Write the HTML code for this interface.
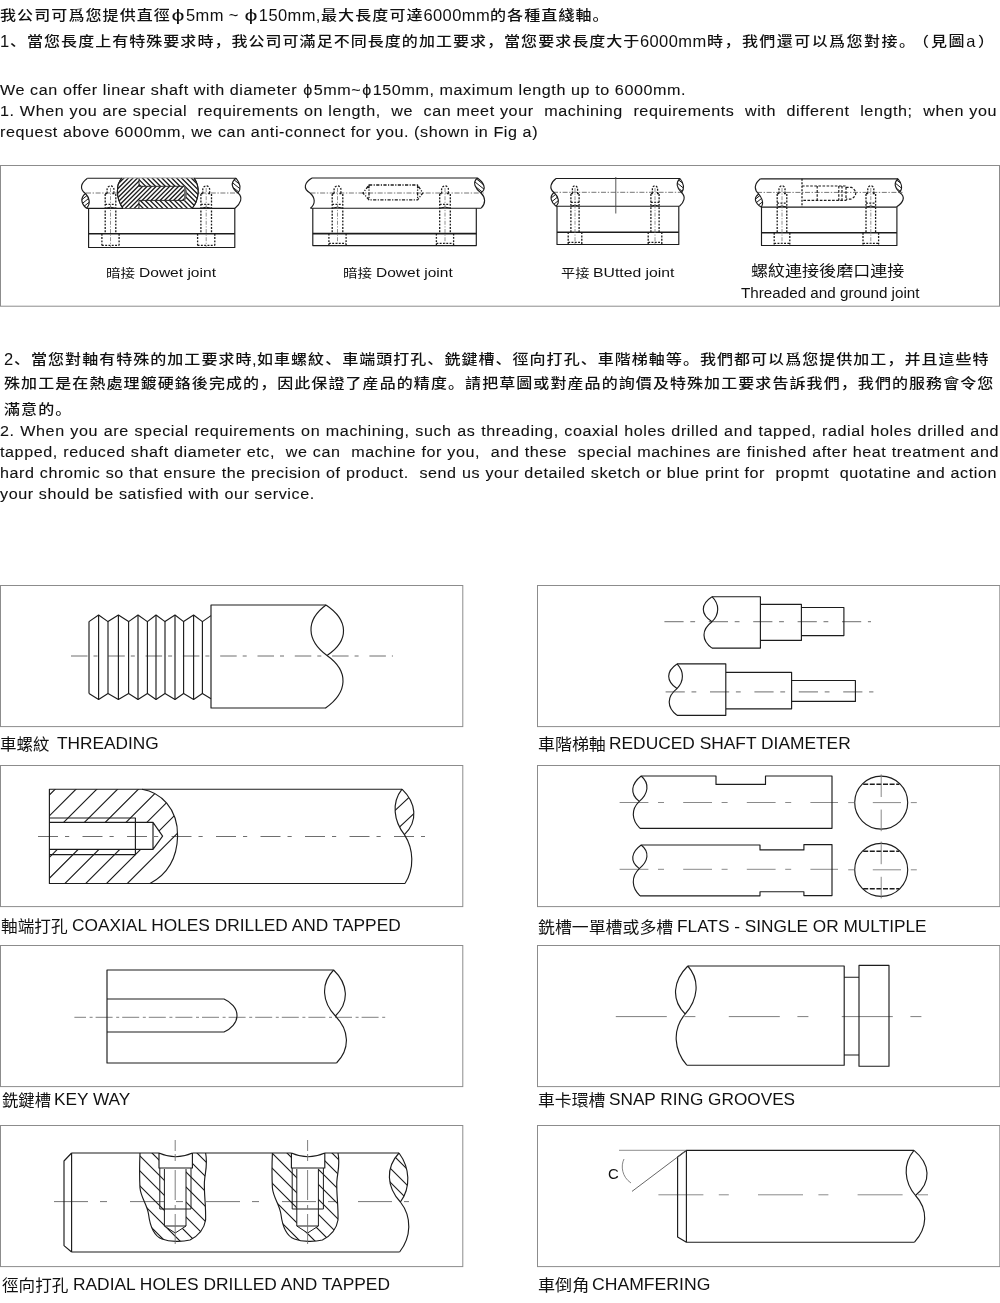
<!DOCTYPE html>
<html><head><meta charset="utf-8"><title>Linear shaft machining</title>
<style>
html,body{margin:0;padding:0;background:#fff;}
body{will-change:transform;width:1000px;height:1303px;position:relative;overflow:hidden;color:#111;font-family:"Liberation Sans","Noto Sans CJK SC",sans-serif;}
.t{position:absolute;white-space:nowrap;font-size:15.5px;line-height:20px;letter-spacing:0.56px;-webkit-text-stroke:0.1px #111;transform-origin:0 50%;transform:scaleX(1.04);}
.c{position:absolute;white-space:nowrap;font-size:13.8px;line-height:20px;letter-spacing:0;}
.c .z{font-weight:500;display:inline-block;transform-origin:0 50%;transform:scaleX(1.16);}
.c i{font-style:normal;font-size:16.5px;letter-spacing:0.4px;position:relative;top:1px;}
.c u{text-decoration:none;display:inline-block;font-size:16px;letter-spacing:0;width:12px;margin:0 2px 0 1px;text-align:center;transform:scaleX(1.45);position:relative;top:1px;}
.c .g{display:inline-block;}
.j{text-align:justify;text-align-last:justify;}
.f{position:absolute;white-space:nowrap;line-height:20px;height:20px;transform-origin:0 50%;}
svg{position:absolute;left:0;top:0;}
</style></head><body>
<div class="c" id="c1" style="left:0px;top:4px;"><span class="z" style="letter-spacing:0.941px;margin-right:23.59px">我公司可爲您提供直徑</span><u>ϕ</u><i>5mm&nbsp;~&nbsp;</i><u>ϕ</u><i>150mm,</i><span class="z" style="letter-spacing:0.941px;margin-right:14.15px">最大長度可達</span><i>6000mm</i><span class="z" style="letter-spacing:0.941px;margin-right:16.51px">的各種直綫軸。</span></div>
<div class="c" id="c2" style="left:0px;top:30px;"><i>1</i><span class="z" style="letter-spacing:0.890px;margin-right:86.96px">、當您長度上有特殊要求時，我公司可滿足不同長度的加工要求，當您要求長度大于</span><i>6000mm</i><span class="z" style="letter-spacing:1.243px;margin-right:28.88px">時，我們還可以爲您對接。</span><span class="g" style="margin-left:-3px"></span><span class="z" style="letter-spacing:1.243px;margin-right:2.41px">（</span><span class="g" style="margin-left:1px"></span><span class="z" style="letter-spacing:1.243px;margin-right:4.81px">見圖</span><i>a</i><span class="g" style="margin-left:2px"></span><span class="z" style="letter-spacing:1.243px;margin-right:2.41px">）</span></div>
<div class="t" id="e1" style="left:0px;top:80px;">We can offer linear shaft with diameter <span style="margin:0 0.9px">ϕ</span>5mm~<span style="margin:0 0.9px">ϕ</span>150mm, maximum length up to 6000mm.</div>
<div class="t j" id="e2" style="left:0px;top:101.25px;width:958.7px;">1. When you are special&nbsp; requirements on length,&nbsp; we&nbsp; can meet your&nbsp; machining&nbsp; requirements&nbsp; with&nbsp; different&nbsp; length;&nbsp; when you</div>
<div class="t" id="e3" style="left:0px;top:122px;">request above 6000mm, we can anti-connect for you. (shown in Fig a)</div>
<div class="c" id="c3" style="left:4px;top:348.3px;"><i>2</i><span class="z" style="letter-spacing:0.890px;margin-right:32.90px">、當您對軸有特殊的加工要求時</span><i>,</i><span class="z" style="letter-spacing:0.890px;margin-right:101.06px">如車螺紋、車端頭打孔、銑鍵槽、徑向打孔、車階梯軸等。我們都可以爲您提供加工，并且這些特</span></div>
<div class="c" id="c4" style="left:4px;top:374px;"><span class="z" style="letter-spacing:0.924px;margin-right:136.64px">殊加工是在熱處理鍍硬鉻後完成的，因此保證了産品的精度。請把草圖或對産品的詢價及特殊加工要求告訴我們，我們的服務會令您</span></div>
<div class="c" id="c5" style="left:4px;top:399.5px;"><span class="z" style="letter-spacing:0.941px;margin-right:9.43px">滿意的。</span></div>
<div class="t j" id="e4" style="left:0px;top:421.25px;width:960.6px;">2. When you are special requirements on machining, such as threading, coaxial holes drilled and tapped, radial holes drilled and</div>
<div class="t j" id="e5" style="left:0px;top:442px;width:960.6px;">tapped, reduced shaft diameter etc,&nbsp; we can&nbsp; machine for you,&nbsp; and these&nbsp; special machines are finished after heat treatment and</div>
<div class="t j" id="e6" style="left:0px;top:463px;width:958.7px;">hard chromic so that ensure the precision of product.&nbsp; send us your detailed sketch or blue print for&nbsp; propmt&nbsp; quotatine and action</div>
<div class="t" id="e7" style="left:0px;top:483.5px;">your should be satisfied with our service.</div>
<div class="f" id="l1a" style="left:105.81px;top:263.84px;font-size:12.3px;transform:scaleX(1.1829);">暗接</div>
<div class="f" id="l1b" style="left:138.76px;top:263.02px;font-size:13.5px;transform:scaleX(1.1523);">Dowet joint</div>
<div class="f" id="l2a" style="left:342.66px;top:263.84px;font-size:12.3px;transform:scaleX(1.1829);">暗接</div>
<div class="f" id="l2b" style="left:375.66px;top:263.02px;font-size:13.5px;transform:scaleX(1.1485);">Dowet joint</div>
<div class="f" id="l3a" style="left:560.54px;top:263.84px;font-size:12.3px;transform:scaleX(1.1569);">平接</div>
<div class="f" id="l3b" style="left:593.49px;top:263.02px;font-size:13.5px;transform:scaleX(1.1665);">BUtted joint</div>
<div class="f" id="l4" style="left:751.32px;top:261.40px;font-size:15px;transform:scaleX(1.1354);">螺紋連接後磨口連接</div>
<div class="f" id="cc" style="left:608.25px;top:1163.93px;font-size:15.5px;transform:scaleX(0.9626);">C</div>
<div class="f" id="l5" style="left:740.62px;top:282.75px;font-size:14px;transform:scaleX(1.0867);">Threaded and ground joint</div>
<div class="f" id="p1a" style="left:0.09px;top:733.99px;font-size:16.2px;transform:scaleX(1.0200);">車螺紋</div>
<div class="f" id="p1b" style="left:56.57px;top:733.71px;font-size:17px;transform:scaleX(1.0160);">THREADING</div>
<div class="f" id="p2a" style="left:537.82px;top:733.99px;font-size:16.2px;transform:scaleX(1.0474);">車階梯軸</div>
<div class="f" id="p2b" style="left:609.11px;top:733.71px;font-size:17px;transform:scaleX(1.0209);">REDUCED SHAFT DIAMETER</div>
<div class="f" id="p3a" style="left:1.33px;top:915.99px;font-size:16.2px;transform:scaleX(1.0288);">軸端打孔</div>
<div class="f" id="p3b" style="left:72.13px;top:915.71px;font-size:17px;transform:scaleX(1.0183);">COAXIAL HOLES DRILLED AND TAPPED</div>
<div class="f" id="p4a" style="left:538.33px;top:916.99px;font-size:16.2px;transform:scaleX(1.0444);">銑槽一單槽或多槽</div>
<div class="f" id="p4b" style="left:677.37px;top:916.71px;font-size:17px;transform:scaleX(1.0149);">FLATS - SINGLE OR MULTIPLE</div>
<div class="f" id="p5a" style="left:1.59px;top:1089.99px;font-size:16.2px;transform:scaleX(1.0095);">銑鍵槽</div>
<div class="f" id="p5b" style="left:54.12px;top:1089.71px;font-size:17px;transform:scaleX(1.0133);">KEY WAY</div>
<div class="f" id="p6a" style="left:537.82px;top:1089.99px;font-size:16.2px;transform:scaleX(1.0393);">車卡環槽</div>
<div class="f" id="p6b" style="left:609.23px;top:1089.71px;font-size:17px;transform:scaleX(1.0119);">SNAP RING GROOVES</div>
<div class="f" id="p7a" style="left:1.67px;top:1274.99px;font-size:16.2px;transform:scaleX(1.0236);">徑向打孔</div>
<div class="f" id="p7b" style="left:73.11px;top:1274.71px;font-size:17px;transform:scaleX(1.0207);">RADIAL HOLES DRILLED AND TAPPED</div>
<div class="f" id="p8a" style="left:537.81px;top:1274.99px;font-size:16.2px;transform:scaleX(1.0562);">車倒角</div>
<div class="f" id="p8b" style="left:591.62px;top:1274.71px;font-size:17px;transform:scaleX(1.0361);">CHAMFERING</div>
<svg id="art" width="1000" height="1303" viewBox="0 0 1000 1303" fill="none" stroke="#111" stroke-width="1">
<g stroke="#8c8c8c" stroke-width="1">
<rect x="0.5" y="165.5" width="999" height="140.7"/>
<rect x="0.5" y="585.5" width="462.3" height="141.1"/>
<rect x="537.5" y="585.5" width="462.3" height="141.1"/>
<rect x="0.5" y="765.5" width="462.3" height="141.1"/>
<rect x="537.5" y="765.5" width="462.3" height="141.1"/>
<rect x="0.5" y="945.5" width="462.3" height="141.1"/>
<rect x="537.5" y="945.5" width="462.3" height="141.1"/>
<rect x="0.5" y="1125.5" width="462.3" height="141.1"/>
<rect x="537.5" y="1125.5" width="462.3" height="141.1"/>
</g>
<g stroke="#1c1c1c" stroke-width="1.15" stroke-linejoin="round" stroke-linecap="butt">
<line x1="71.00" y1="656.00" x2="393.00" y2="656.00" stroke="#5e5e5e" stroke-width="0.9" stroke-dasharray="16.5 6 4 10.8" stroke-dashoffset="0"/>
<path d="M89.0,621.6 L98.6,615.0 L108.0,621.6 L118.4,615.0 L128.6,621.6 L138.0,615.0 L147.4,621.6 L156.0,615.0 L165.0,621.6 L175.0,615.0 L183.6,621.6 L193.6,615.0 L202.4,621.6 L211.0,615.6" />
<path d="M89.0,693.6 L98.6,699.4 L108.0,693.6 L118.4,699.4 L128.6,693.6 L138.0,699.4 L147.4,693.6 L156.0,699.4 L165.0,693.6 L175.0,699.4 L183.6,693.6 L193.6,699.4 L202.4,693.6 L211.0,698.8" />
<path d="M89.0,621.6 V693.6 M108.0,621.6 V693.6 M128.6,621.6 V693.6 M147.4,621.6 V693.6 M165.0,621.6 V693.6 M183.6,621.6 V693.6 M202.4,621.6 V693.6 M98.6,615.0 V699.4 M118.4,615.0 V699.4 M138.0,615.0 V699.4 M156.0,615.0 V699.4 M175.0,615.0 V699.4 M193.6,615.0 V699.4 " />
<path d="M326,605 H211 V708 H326" />
<path d="M326.00,605.00 C348.67,620.15 349.67,640.35 327.00,655.50 M326.00,605.00 C305.33,620.15 306.33,640.35 327.00,655.50 M327.00,655.50 C349.27,671.25 347.87,692.25 325.60,708.00" />
<line x1="664.40" y1="621.70" x2="871.00" y2="621.70" stroke="#8a8a8a" stroke-width="1.2" stroke-dasharray="19.2 6.7 4.8 13.7" stroke-dashoffset="0"/>
<line x1="665.60" y1="691.80" x2="873.40" y2="691.80" stroke="#8a8a8a" stroke-width="1.2" stroke-dasharray="19.2 6.7 4.8 13.7" stroke-dashoffset="0"/>
<path d="M712,596.7 H760.4 V648.1 H712 M760.4,604.4 H801.4 V640.4 H760.4 M801.4,607.5 H843.9 V635.6 H801.4" />
<path d="M712.00,596.70 C700.40,604.20 700.40,614.20 712.00,621.70 M712.00,596.70 C719.60,604.20 719.60,614.20 712.00,621.70 M712.00,621.70 C701.33,629.62 701.33,640.18 712.00,648.10" />
<path d="M677,663.9 H725.8 V715.3 H677 M725.8,672.3 H791.6 V708.8 H725.8 M791.6,680.5 H855.4 V701.4 H791.6" />
<path d="M677.00,663.90 C665.93,671.31 665.93,681.19 677.00,688.60 M677.00,663.90 C684.20,671.31 684.20,681.19 677.00,688.60 M677.00,688.60 C666.60,696.61 666.60,707.29 677.00,715.30" />
<line x1="38.00" y1="836.50" x2="425.00" y2="836.50" stroke="#5e5e5e" stroke-width="0.9" stroke-dasharray="20 7 4.2 13.3" stroke-dashoffset="0"/>
<path d="M402,789.2 H49.4 V883.5 H405" />
<path d="M142,789.2 C160,792 178,808 177.6,836 C177,860 166,875 150,883.5" />
<path d="M49.4,818 H135.4 V854.6 H49.4 M49.4,822.4 H153 L162.6,836.2 L153,849.4 H49.4 M153,822.4 V849.4" />
<clipPath id="h1"><path d="M49.4,789.2 H142 C160,792 178,808 177.6,836 C177,860 166,875 150,883.5 H49.4 Z M49.4,822.4 H153 L162.6,836.2 L153,849.4 H49.4 Z" clip-rule="evenodd"/></clipPath>
<path clip-path="url(#h1)" d="M-55.60,900.00 L64.40,780.00 M-34.80,900.00 L85.20,780.00 M-14.00,900.00 L106.00,780.00 M6.80,900.00 L126.80,780.00 M27.60,900.00 L147.60,780.00 M48.40,900.00 L168.40,780.00 M69.20,900.00 L189.20,780.00 M90.00,900.00 L210.00,780.00 M110.80,900.00 L230.80,780.00" />
<path d="M402.00,789.20 C416.13,802.82 418.53,820.98 404.40,834.60 M402.00,789.20 C391.33,802.82 393.73,820.98 404.40,834.60 M404.40,834.60 C413.87,849.27 414.47,868.83 405.00,883.50" />
<clipPath id="h2"><path d="M402.00,789.20 C416.13,802.82 418.53,820.98 404.40,834.60 C393.73,820.98 391.33,802.82 402.00,789.20 Z" clip-rule="nonzero"/></clipPath>
<path clip-path="url(#h2)" d="M390.00,815.20 L415.00,791.80 M394.00,832.20 L419.00,808.80" />
<line x1="619.60" y1="802.50" x2="838.00" y2="802.50" stroke="#8a8a8a" stroke-width="1.0" stroke-dasharray="28.8 9.6 6 19.2" stroke-dashoffset="0"/>
<line x1="619.60" y1="869.30" x2="838.00" y2="869.30" stroke="#8a8a8a" stroke-width="1.0" stroke-dasharray="28.8 9.6 6 19.2" stroke-dashoffset="0"/>
<path d="M641.2,776 H716 V784.4 H765.5 V776 H832 V828.3 H640" />
<path d="M641.20,776.00 C650.07,783.62 648.17,793.78 639.30,801.40 M641.20,776.00 C631.27,783.62 629.37,793.78 639.30,801.40 M639.30,801.40 C630.83,809.47 631.53,820.23 640.00,828.30" />
<path d="M641.2,845 H760 V849.9 H803.9 V844.6 H832 V895.6 H803.9 V891.7 H760 V895.8 H640" />
<path d="M641.20,845.00 C650.07,852.08 648.17,861.52 639.30,868.60 M641.20,845.00 C631.27,852.08 629.37,861.52 639.30,868.60 M639.30,868.60 C630.83,876.76 631.53,887.64 640.00,895.80" />
<circle cx="881.2" cy="802.6" r="26.5"/>
<line x1="863.20" y1="784.20" x2="899.40" y2="784.20" stroke-dasharray="5 1.6" stroke-width="1.4"/>
<line x1="881.20" y1="774.40" x2="881.20" y2="797.00" stroke="#7a7a7a" stroke-width="0.9"/>
<line x1="881.20" y1="809.60" x2="881.20" y2="831.20" stroke="#7a7a7a" stroke-width="0.9"/>
<line x1="848.20" y1="802.60" x2="854.40" y2="802.60" stroke="#8a8a8a" stroke-width="1"/>
<line x1="872.80" y1="802.60" x2="901.00" y2="802.60" stroke="#8a8a8a" stroke-width="1"/>
<line x1="910.80" y1="802.60" x2="916.80" y2="802.60" stroke="#8a8a8a" stroke-width="1"/>
<circle cx="881.2" cy="869.8" r="26.5"/>
<line x1="863.20" y1="851.20" x2="899.40" y2="851.20" stroke-dasharray="5 1.6" stroke-width="1.4"/>
<line x1="863.20" y1="888.80" x2="899.40" y2="888.80" stroke-dasharray="5 1.6" stroke-width="1.4"/>
<line x1="881.20" y1="841.60" x2="881.20" y2="864.20" stroke="#7a7a7a" stroke-width="0.9"/>
<line x1="881.20" y1="876.80" x2="881.20" y2="898.40" stroke="#7a7a7a" stroke-width="0.9"/>
<line x1="848.20" y1="869.80" x2="854.40" y2="869.80" stroke="#8a8a8a" stroke-width="1"/>
<line x1="872.80" y1="869.80" x2="901.00" y2="869.80" stroke="#8a8a8a" stroke-width="1"/>
<line x1="910.80" y1="869.80" x2="916.80" y2="869.80" stroke="#8a8a8a" stroke-width="1"/>
<line x1="74.40" y1="1017.30" x2="388.00" y2="1017.30" stroke="#5e5e5e" stroke-width="0.8" stroke-dasharray="17 3.6 3 3" stroke-dashoffset="5.4"/>
<path d="M333.6,970 H107 V1063 H336.5" />
<path d="M333.60,970.00 C348.00,983.80 349.80,1002.20 335.40,1016.00 M333.60,970.00 C320.40,983.80 322.20,1002.20 335.40,1016.00 M335.40,1016.00 C349.33,1030.10 350.43,1048.90 336.50,1063.00" />
<path d="M107,999 H224 C231,1002 237,1008 237,1015.5 C237,1023 231,1029 224,1032 H107" />
<line x1="615.80" y1="1016.60" x2="922.00" y2="1016.60" stroke="#5e5e5e" stroke-width="0.8" stroke-dasharray="51 17.6 11 33.4" stroke-dashoffset="0"/>
<path d="M687.8,966 H844.2 V1065.2 H686.8 M844.2,977.2 H859 M844.2,1055 H859 M859,965.4 H889 V1066.2 H859 Z" />
<path d="M687.80,966.00 C700.47,980.40 697.87,999.60 685.20,1014.00 M687.80,966.00 C673.27,980.40 670.67,999.60 685.20,1014.00 M685.20,1014.00 C672.13,1029.36 673.73,1049.84 686.80,1065.20" />
<line x1="54.00" y1="1201.60" x2="409.00" y2="1201.60" stroke="#666" stroke-width="0.9" stroke-dasharray="34 12 7 23" stroke-dashoffset="0"/>
<path d="M71.6,1153 L64,1161 V1245.6 L71.6,1252 M71.6,1153 V1252" />
<g>
<path d="M140.0,1153 C139.5,1165 139.5,1178 140.0,1188 C141.0,1198 147.0,1204 148.5,1214 C150.0,1226 154.0,1236 162.0,1239 C170.0,1242 182.0,1242 190.0,1240 C198.0,1236 204.0,1230 205.6,1220 C206.0,1205 204.0,1195 204.4,1182 C205.0,1172 208.0,1165 205.6,1153" />
<path d="M159.0,1153 Q175.7,1160.5 192.4,1153 M159.0,1153 V1168 H192.4 V1153" />
<path d="M159.8,1168 V1209 H191.0 V1168 M164.4,1169 V1226 H186.0 V1169 M164.4,1226 L175.2,1233 L186.0,1226" stroke-width="1.0"/>
<clipPath id="h3"><path d="M140.0,1153 C139.5,1165 139.5,1178 140.0,1188 C141.0,1198 147.0,1204 148.5,1214 C150.0,1226 154.0,1236 162.0,1239 C170.0,1242 182.0,1242 190.0,1240 C198.0,1236 204.0,1230 205.6,1220 C206.0,1205 204.0,1195 204.4,1182 C205.0,1172 208.0,1165 205.6,1153 Z M159.0,1153 H192.4 V1168 H186.0 V1226 L175.2,1233 L164.4,1226 V1168 H159.0 Z" clip-rule="evenodd"/></clipPath>
<path clip-path="url(#h3)" d="M0.00,761.00 L500.00,1261.00 M0.00,776.00 L500.00,1276.00 M0.00,791.00 L500.00,1291.00 M0.00,806.00 L500.00,1306.00 M0.00,821.00 L500.00,1321.00 M0.00,836.00 L500.00,1336.00 M0.00,851.00 L500.00,1351.00 M0.00,866.00 L500.00,1366.00 M0.00,881.00 L500.00,1381.00 M0.00,896.00 L500.00,1396.00 M0.00,911.00 L500.00,1411.00 M0.00,926.00 L500.00,1426.00 M0.00,941.00 L500.00,1441.00 M0.00,956.00 L500.00,1456.00 M0.00,971.00 L500.00,1471.00 M0.00,986.00 L500.00,1486.00 M0.00,1001.00 L500.00,1501.00 M0.00,1016.00 L500.00,1516.00 M0.00,1031.00 L500.00,1531.00 M0.00,1046.00 L500.00,1546.00 M0.00,1061.00 L500.00,1561.00 M0.00,1076.00 L500.00,1576.00 M0.00,1091.00 L500.00,1591.00 M0.00,1106.00 L500.00,1606.00 M0.00,1121.00 L500.00,1621.00 M0.00,1136.00 L500.00,1636.00" />
<line x1="175.20" y1="1140.00" x2="175.20" y2="1151.00" stroke="#707070" stroke-width="0.9"/>
<line x1="175.20" y1="1154.00" x2="175.20" y2="1161.00" stroke="#707070" stroke-width="0.9"/>
<line x1="175.20" y1="1170.00" x2="175.20" y2="1200.00" stroke="#707070" stroke-width="0.9"/>
<line x1="175.20" y1="1205.00" x2="175.20" y2="1209.00" stroke="#707070" stroke-width="0.9"/>
<line x1="175.20" y1="1214.00" x2="175.20" y2="1244.00" stroke="#707070" stroke-width="0.9"/>
</g><g>
<path d="M272.4,1153 C271.9,1165 271.9,1178 272.4,1188 C273.4,1198 279.4,1204 280.9,1214 C282.4,1226 286.4,1236 294.4,1239 C302.4,1242 314.4,1242 322.4,1240 C330.4,1236 336.4,1230 338.0,1220 C338.4,1205 336.4,1195 336.8,1182 C337.4,1172 340.4,1165 338.0,1153" />
<path d="M291.4,1153 Q308.1,1160.5 324.8,1153 M291.4,1153 V1168 H324.8 V1153" />
<path d="M292.2,1168 V1209 H323.4 V1168 M296.8,1169 V1226 H318.4 V1169 M296.8,1226 L307.6,1233 L318.4,1226" stroke-width="1.0"/>
<clipPath id="h4"><path d="M272.4,1153 C271.9,1165 271.9,1178 272.4,1188 C273.4,1198 279.4,1204 280.9,1214 C282.4,1226 286.4,1236 294.4,1239 C302.4,1242 314.4,1242 322.4,1240 C330.4,1236 336.4,1230 338.0,1220 C338.4,1205 336.4,1195 336.8,1182 C337.4,1172 340.4,1165 338.0,1153 Z M291.4,1153 H324.8 V1168 H318.4 V1226 L307.6,1233 L296.8,1226 V1168 H291.4 Z" clip-rule="evenodd"/></clipPath>
<path clip-path="url(#h4)" d="M0.00,761.00 L500.00,1261.00 M0.00,776.00 L500.00,1276.00 M0.00,791.00 L500.00,1291.00 M0.00,806.00 L500.00,1306.00 M0.00,821.00 L500.00,1321.00 M0.00,836.00 L500.00,1336.00 M0.00,851.00 L500.00,1351.00 M0.00,866.00 L500.00,1366.00 M0.00,881.00 L500.00,1381.00 M0.00,896.00 L500.00,1396.00 M0.00,911.00 L500.00,1411.00 M0.00,926.00 L500.00,1426.00 M0.00,941.00 L500.00,1441.00 M0.00,956.00 L500.00,1456.00 M0.00,971.00 L500.00,1471.00 M0.00,986.00 L500.00,1486.00 M0.00,1001.00 L500.00,1501.00 M0.00,1016.00 L500.00,1516.00 M0.00,1031.00 L500.00,1531.00 M0.00,1046.00 L500.00,1546.00 M0.00,1061.00 L500.00,1561.00 M0.00,1076.00 L500.00,1576.00 M0.00,1091.00 L500.00,1591.00 M0.00,1106.00 L500.00,1606.00 M0.00,1121.00 L500.00,1621.00 M0.00,1136.00 L500.00,1636.00" />
<line x1="307.60" y1="1140.00" x2="307.60" y2="1151.00" stroke="#707070" stroke-width="0.9"/>
<line x1="307.60" y1="1154.00" x2="307.60" y2="1161.00" stroke="#707070" stroke-width="0.9"/>
<line x1="307.60" y1="1170.00" x2="307.60" y2="1200.00" stroke="#707070" stroke-width="0.9"/>
<line x1="307.60" y1="1205.00" x2="307.60" y2="1209.00" stroke="#707070" stroke-width="0.9"/>
<line x1="307.60" y1="1214.00" x2="307.60" y2="1244.00" stroke="#707070" stroke-width="0.9"/>
</g>
<path d="M71.6,1153 H159 M192.4,1153 H291.4 M324.8,1153 H399 M71.6,1252 H399.6" />
<path d="M399.00,1153.00 C409.80,1167.70 411.20,1187.30 400.40,1202.00 M399.00,1153.00 C385.27,1167.70 386.67,1187.30 400.40,1202.00 M400.40,1202.00 C412.13,1217.00 411.33,1237.00 399.60,1252.00" />
<clipPath id="h5"><path d="M399.00,1153.00 C409.80,1167.70 411.20,1187.30 400.40,1202.00 C386.67,1187.30 385.27,1167.70 399.00,1153.00 Z" clip-rule="nonzero"/></clipPath>
<path clip-path="url(#h5)" d="M380.00,1142.00 L440.00,1202.00 M380.00,1158.00 L440.00,1218.00 M380.00,1172.00 L440.00,1232.00" />
<line x1="658.40" y1="1194.80" x2="929.00" y2="1194.80" stroke="#8a8a8a" stroke-width="1.0" stroke-dasharray="45 15.4 10 29.2" stroke-dashoffset="0"/>
<path d="M914,1150.4 H686.4 L677.6,1157 V1237 L686.4,1242.2 H914.5 M686.4,1150.4 V1242.2" />
<path d="M914.00,1150.40 C930.33,1163.93 931.83,1181.97 915.50,1195.50 M914.00,1150.40 C902.60,1163.93 904.10,1181.97 915.50,1195.50 M915.50,1195.50 C928.43,1209.51 927.43,1228.19 914.50,1242.20" />
<line x1="619.00" y1="1150.30" x2="686.00" y2="1150.30" stroke="#808080" stroke-width="0.9"/>
<line x1="686.40" y1="1150.40" x2="632.00" y2="1191.40" stroke="#555" stroke-width="0.9"/>
<path d="M624,1159 C620.5,1166 622,1177 631,1183" stroke="#777" stroke-width="0.9"/>
</g><g stroke="#1c1c1c" stroke-width="1.15" stroke-linejoin="round">
<line x1="86.00" y1="193.00" x2="239.50" y2="193.00" stroke="#666" stroke-width="0.9" stroke-dasharray="5 1.6 1.4 1.6" stroke-dashoffset="0"/>
<path d="M87.5,178.2 H236 M86.5,208.3 H235" />
<path d="M87.50,178.20 C80.97,182.79 78.97,188.91 85.50,193.50 M85.50,193.50 C89.77,197.94 90.77,203.86 86.50,208.30 M85.50,193.50 C80.03,197.94 81.03,203.86 86.50,208.30" />
<clipPath id="h101"><path d="M85.50,193.50 C89.77,197.94 90.77,203.86 86.50,208.30 C81.03,203.86 80.03,197.94 85.50,193.50 Z" clip-rule="nonzero"/></clipPath>
<path clip-path="url(#h101)" d="M77.55,203.10 L93.55,190.30 M77.55,207.30 L93.55,194.50 M77.55,211.50 L93.55,198.70" stroke-width="1.0"/>
<path d="M236.00,178.20 C239.60,182.64 241.60,188.56 238.00,193.00 M236.00,178.20 C229.87,182.64 231.87,188.56 238.00,193.00 M238.00,193.00 C243.47,197.59 240.47,203.71 235.00,208.30" />
<clipPath id="h102"><path d="M236.00,178.20 C239.60,182.64 241.60,188.56 238.00,193.00 C231.87,188.56 229.87,182.64 236.00,178.20 Z" clip-rule="nonzero"/></clipPath>
<path clip-path="url(#h102)" d="M228.05,175.00 L244.05,187.80 M228.05,179.20 L244.05,192.00 M228.05,183.40 L244.05,196.20" stroke-width="1.0"/>
<path d="M88.6,208.3 V247.5 H234.8 V208.3" />
<line x1="88.60" y1="233.80" x2="234.80" y2="233.80" stroke-width="1.6"/>
<path d="M107.10,193.5 V189.30 A3.40,3.40 0 0 1 113.90,189.30 V193.5 M105.20,193.6 H108.50 M112.50,193.6 H115.80 M105.20,194 V233.80 M115.80,194 V233.80 M105.20,204.40 H115.80 M101.90,233.80 V247.50 M119.10,233.80 V247.50 M101.90,245.30 H119.10 " stroke-dasharray="1.9 1.4" stroke-width="1.3"/>
<path d="M105.20,208.30 Q110.50,206.10 115.80,208.30" stroke-width="1.0"/>
<line x1="110.50" y1="188.00" x2="110.50" y2="247.50" stroke="#777" stroke-width="0.8" stroke-dasharray="4 1.5 1.2 1.5" stroke-dashoffset="0"/>
<path d="M202.80,193.5 V189.30 A3.40,3.40 0 0 1 209.60,189.30 V193.5 M200.90,193.6 H204.20 M208.20,193.6 H211.50 M200.90,194 V233.80 M211.50,194 V233.80 M200.90,204.40 H211.50 M197.60,233.80 V247.50 M214.80,233.80 V247.50 M197.60,245.30 H214.80 " stroke-dasharray="1.9 1.4" stroke-width="1.3"/>
<path d="M200.90,208.30 Q206.20,206.10 211.50,208.30" stroke-width="1.0"/>
<line x1="206.20" y1="188.00" x2="206.20" y2="247.50" stroke="#777" stroke-width="0.8" stroke-dasharray="4 1.5 1.2 1.5" stroke-dashoffset="0"/>
<path d="M122,178.2 C116,184 115.5,198 123,208.3 M192,208.3 C199.5,200 200,186 194,178.2" />
<path d="M122,178.2 C116,184 115.5,198 123,208.3 H192 C199.5,200 200,186 194,178.2 Z" fill="#fff" stroke="none"/>
<path d="M122,178.2 C116,184 115.5,198 123,208.3 M192,208.3 C199.5,200 200,186 194,178.2" />
<clipPath id="ov"><path d="M122,178.2 C116,184 115.5,198 123,208.3 H192 C199.5,200 200,186 194,178.2 Z"/></clipPath>
<g clip-path="url(#ov)">
<clipPath id="h103"><path d="M100,170 H139 V186.3 H184.6 V200.4 H139 V215 H100 Z" clip-rule="nonzero"/></clipPath>
<path clip-path="url(#h103)" d="M60.00,215.00 L105.00,170.00 M64.50,215.00 L109.50,170.00 M69.00,215.00 L114.00,170.00 M73.50,215.00 L118.50,170.00 M78.00,215.00 L123.00,170.00 M82.50,215.00 L127.50,170.00 M87.00,215.00 L132.00,170.00 M91.50,215.00 L136.50,170.00 M96.00,215.00 L141.00,170.00 M100.50,215.00 L145.50,170.00 M105.00,215.00 L150.00,170.00 M109.50,215.00 L154.50,170.00 M114.00,215.00 L159.00,170.00 M118.50,215.00 L163.50,170.00 M123.00,215.00 L168.00,170.00 M127.50,215.00 L172.50,170.00 M132.00,215.00 L177.00,170.00 M136.50,215.00 L181.50,170.00 M141.00,215.00 L186.00,170.00 M145.50,215.00 L190.50,170.00 M150.00,215.00 L195.00,170.00 M154.50,215.00 L199.50,170.00 M159.00,215.00 L204.00,170.00 M163.50,215.00 L208.50,170.00 M168.00,215.00 L213.00,170.00 M172.50,215.00 L217.50,170.00 M177.00,215.00 L222.00,170.00 M181.50,215.00 L226.50,170.00 M186.00,215.00 L231.00,170.00 M190.50,215.00 L235.50,170.00 M195.00,215.00 L240.00,170.00 M199.50,215.00 L244.50,170.00 M204.00,215.00 L249.00,170.00 M208.50,215.00 L253.50,170.00 M213.00,215.00 L258.00,170.00 M217.50,215.00 L262.50,170.00 M222.00,215.00 L267.00,170.00 M226.50,215.00 L271.50,170.00 M231.00,215.00 L276.00,170.00 M235.50,215.00 L280.50,170.00 M240.00,215.00 L285.00,170.00 M244.50,215.00 L289.50,170.00 M249.00,215.00 L294.00,170.00 M253.50,215.00 L298.50,170.00 M258.00,215.00 L303.00,170.00" stroke-width="1.35"/>
<clipPath id="h104"><path d="M139,170 H210 V215 H139 V200.4 H184.6 Q187.6,193.3 184.6,186.3 H139 Z" clip-rule="nonzero"/></clipPath>
<path clip-path="url(#h104)" d="M100.00,170.00 L145.00,215.00 M104.90,170.00 L149.90,215.00 M109.80,170.00 L154.80,215.00 M114.70,170.00 L159.70,215.00 M119.60,170.00 L164.60,215.00 M124.50,170.00 L169.50,215.00 M129.40,170.00 L174.40,215.00 M134.30,170.00 L179.30,215.00 M139.20,170.00 L184.20,215.00 M144.10,170.00 L189.10,215.00 M149.00,170.00 L194.00,215.00 M153.90,170.00 L198.90,215.00 M158.80,170.00 L203.80,215.00 M163.70,170.00 L208.70,215.00 M168.60,170.00 L213.60,215.00 M173.50,170.00 L218.50,215.00 M178.40,170.00 L223.40,215.00 M183.30,170.00 L228.30,215.00 M188.20,170.00 L233.20,215.00 M193.10,170.00 L238.10,215.00 M198.00,170.00 L243.00,215.00 M202.90,170.00 L247.90,215.00 M207.80,170.00 L252.80,215.00 M212.70,170.00 L257.70,215.00 M217.60,170.00 L262.60,215.00 M222.50,170.00 L267.50,215.00 M227.40,170.00 L272.40,215.00 M232.30,170.00 L277.30,215.00 M237.20,170.00 L282.20,215.00 M242.10,170.00 L287.10,215.00 M247.00,170.00 L292.00,215.00 M251.90,170.00 L296.90,215.00 M256.80,170.00 L301.80,215.00" stroke-width="1.35"/>
</g>
<path d="M139,186.3 H184.6 M139,200.4 H184.6 M139,178.2 V186.3 M139,200.4 V208.3" stroke-width="0.9"/>
<path d="M184.6,186.3 Q188.4,193.3 184.6,200.4 Z" fill="#777" stroke="#555" stroke-width="0.8"/>
<line x1="310.50" y1="193.00" x2="484.00" y2="193.00" stroke="#666" stroke-width="0.9" stroke-dasharray="5 1.6 1.4 1.6" stroke-dashoffset="0"/>
<path d="M312,178 H477.5 M310.5,208.2 H481.2" />
<path d="M312.00,178.00 C304.53,182.50 302.53,188.50 310.00,193.00 M310.00,193.00 C315.27,197.56 315.77,203.64 310.50,208.20" />
<path d="M477.50,178.00 C483.57,182.50 487.07,188.50 481.00,193.00 M477.50,178.00 C471.83,182.50 475.33,188.50 481.00,193.00 M481.00,193.00 C485.67,197.56 485.87,203.64 481.20,208.20" />
<clipPath id="h105"><path d="M477.50,178.00 C483.57,182.50 487.07,188.50 481.00,193.00 C475.33,188.50 471.83,182.50 477.50,178.00 Z" clip-rule="nonzero"/></clipPath>
<path clip-path="url(#h105)" d="M471.40,174.90 L487.40,187.70 M471.40,179.10 L487.40,191.90 M471.40,183.30 L487.40,196.10" stroke-width="1.0"/>
<path d="M312.8,208.2 V245.6 H476.3 V208.2" />
<line x1="312.80" y1="233.60" x2="476.30" y2="233.60" stroke-width="1.6"/>
<path d="M334.10,193.5 V189.30 A3.40,3.40 0 0 1 340.90,189.30 V193.5 M332.20,193.6 H335.50 M339.50,193.6 H342.80 M332.20,194 V233.60 M342.80,194 V233.60 M332.20,204.30 H342.80 M328.90,233.60 V245.60 M346.10,233.60 V245.60 M328.90,243.40 H346.10 " stroke-dasharray="1.9 1.4" stroke-width="1.3"/>
<path d="M332.20,208.20 Q337.50,206.00 342.80,208.20" stroke-width="1.0"/>
<line x1="337.50" y1="188.00" x2="337.50" y2="245.60" stroke="#777" stroke-width="0.8" stroke-dasharray="4 1.5 1.2 1.5" stroke-dashoffset="0"/>
<path d="M441.60,193.5 V189.30 A3.40,3.40 0 0 1 448.40,189.30 V193.5 M439.70,193.6 H443.00 M447.00,193.6 H450.30 M439.70,194 V233.60 M450.30,194 V233.60 M439.70,204.30 H450.30 M436.40,233.60 V245.60 M453.60,233.60 V245.60 M436.40,243.40 H453.60 " stroke-dasharray="1.9 1.4" stroke-width="1.3"/>
<path d="M439.70,208.20 Q445.00,206.00 450.30,208.20" stroke-width="1.0"/>
<line x1="445.00" y1="188.00" x2="445.00" y2="245.60" stroke="#777" stroke-width="0.8" stroke-dasharray="4 1.5 1.2 1.5" stroke-dashoffset="0"/>
<path d="M369,185 H417.6 L422.8,193 L417.6,199.8 H369 L363,193 Z M369,185 L369,199.8 M417.6,185 V199.8" stroke-dasharray="3.2 1.4 1.2 1.4" stroke-width="1.3"/>
<line x1="553.00" y1="192.30" x2="683.50" y2="192.30" stroke="#666" stroke-width="0.9" stroke-dasharray="5 1.6 1.4 1.6" stroke-dashoffset="0"/>
<path d="M556,178.5 H680 M556,206.2 H679.5" />
<path d="M556.00,178.50 C550.67,182.70 548.67,188.30 554.00,192.50 M554.00,192.50 C558.27,196.61 560.27,202.09 556.00,206.20 M554.00,192.50 C548.93,196.61 550.93,202.09 556.00,206.20" />
<clipPath id="h106"><path d="M554.00,192.50 C558.27,196.61 560.27,202.09 556.00,206.20 C550.93,202.09 548.93,196.61 554.00,192.50 Z" clip-rule="nonzero"/></clipPath>
<path clip-path="url(#h106)" d="M546.70,201.55 L562.70,188.75 M546.70,205.75 L562.70,192.95 M546.70,209.95 L562.70,197.15" stroke-width="1.0"/>
<path d="M680.00,178.50 C683.27,182.70 684.77,188.30 681.50,192.50 M680.00,178.50 C675.40,182.70 676.90,188.30 681.50,192.50 M681.50,192.50 C686.17,196.61 684.17,202.09 679.50,206.20" />
<clipPath id="h107"><path d="M680.00,178.50 C683.27,182.70 684.77,188.30 681.50,192.50 C676.90,188.30 675.40,182.70 680.00,178.50 Z" clip-rule="nonzero"/></clipPath>
<path clip-path="url(#h107)" d="M672.25,174.90 L688.25,187.70 M672.25,179.10 L688.25,191.90 M672.25,183.30 L688.25,196.10" stroke-width="1.0"/>
<path d="M557,206.2 V244.5 H678.8 V206.2" />
<line x1="557.00" y1="232.20" x2="678.80" y2="232.20" stroke-width="1.6"/>
<path d="M572.40,193.5 V188.50 A2.60,2.60 0 0 1 577.60,188.50 V193.5 M570.90,193.6 H573.00 M577.00,193.6 H579.10 M570.90,194 V232.20 M579.10,194 V232.20 M570.90,202.30 H579.10 M568.20,232.20 V244.50 M581.80,232.20 V244.50 M568.20,242.30 H581.80 " stroke-dasharray="1.9 1.4" stroke-width="1.3"/>
<path d="M570.90,206.20 Q575.00,204.00 579.10,206.20" stroke-width="1.0"/>
<line x1="575.00" y1="188.00" x2="575.00" y2="244.50" stroke="#777" stroke-width="0.8" stroke-dasharray="4 1.5 1.2 1.5" stroke-dashoffset="0"/>
<path d="M652.40,193.5 V188.50 A2.60,2.60 0 0 1 657.60,188.50 V193.5 M650.90,193.6 H653.00 M657.00,193.6 H659.10 M650.90,194 V232.20 M659.10,194 V232.20 M650.90,202.30 H659.10 M648.20,232.20 V244.50 M661.80,232.20 V244.50 M648.20,242.30 H661.80 " stroke-dasharray="1.9 1.4" stroke-width="1.3"/>
<path d="M650.90,206.20 Q655.00,204.00 659.10,206.20" stroke-width="1.0"/>
<line x1="655.00" y1="188.00" x2="655.00" y2="244.50" stroke="#777" stroke-width="0.8" stroke-dasharray="4 1.5 1.2 1.5" stroke-dashoffset="0"/>
<line x1="615.80" y1="177.00" x2="615.80" y2="213.50" stroke="#444" stroke-width="0.9"/>
<line x1="757.00" y1="192.40" x2="902.50" y2="192.40" stroke="#666" stroke-width="0.9" stroke-dasharray="5 1.6 1.4 1.6" stroke-dashoffset="0"/>
<path d="M760.4,178.8 H898 M761.2,207.1 H896.4" />
<path d="M760.40,178.80 C754.80,183.36 753.20,189.44 758.80,194.00 M758.80,194.00 C761.73,197.93 764.13,203.17 761.20,207.10 M758.80,194.00 C752.93,197.93 755.33,203.17 761.20,207.10" />
<clipPath id="h108"><path d="M758.80,194.00 C761.73,197.93 764.13,203.17 761.20,207.10 C755.33,203.17 752.93,197.93 758.80,194.00 Z" clip-rule="nonzero"/></clipPath>
<path clip-path="url(#h108)" d="M750.90,202.75 L766.90,189.95 M750.90,206.95 L766.90,194.15 M750.90,211.15 L766.90,198.35" stroke-width="1.0"/>
<path d="M898.00,178.80 C901.47,182.88 903.07,188.32 899.60,192.40 M898.00,178.80 C893.33,182.88 894.93,188.32 899.60,192.40 M899.60,192.40 C906.27,196.81 903.07,202.69 896.40,207.10" />
<clipPath id="h109"><path d="M898.00,178.80 C901.47,182.88 903.07,188.32 899.60,192.40 C894.93,188.32 893.33,182.88 898.00,178.80 Z" clip-rule="nonzero"/></clipPath>
<path clip-path="url(#h109)" d="M890.35,175.00 L906.35,187.80 M890.35,179.20 L906.35,192.00 M890.35,183.40 L906.35,196.20" stroke-width="1.0"/>
<path d="M761.5,207.1 V245.5 H896.9 V207.1" />
<line x1="761.50" y1="232.80" x2="896.90" y2="232.80" stroke-width="1.6"/>
<path d="M779.00,193.5 V188.90 A3.00,3.00 0 0 1 785.00,188.90 V193.5 M777.20,193.6 H780.00 M784.00,193.6 H786.80 M777.20,194 V232.80 M786.80,194 V232.80 M777.20,203.20 H786.80 M774.20,232.80 V245.50 M789.80,232.80 V245.50 M774.20,243.30 H789.80 " stroke-dasharray="1.9 1.4" stroke-width="1.3"/>
<path d="M777.20,207.10 Q782.00,204.90 786.80,207.10" stroke-width="1.0"/>
<line x1="782.00" y1="188.00" x2="782.00" y2="245.50" stroke="#777" stroke-width="0.8" stroke-dasharray="4 1.5 1.2 1.5" stroke-dashoffset="0"/>
<path d="M867.80,193.5 V188.90 A3.00,3.00 0 0 1 873.80,188.90 V193.5 M866.00,193.6 H868.80 M872.80,193.6 H875.60 M866.00,194 V232.80 M875.60,194 V232.80 M866.00,203.20 H875.60 M863.00,232.80 V245.50 M878.60,232.80 V245.50 M863.00,243.30 H878.60 " stroke-dasharray="1.9 1.4" stroke-width="1.3"/>
<path d="M866.00,207.10 Q870.80,204.90 875.60,207.10" stroke-width="1.0"/>
<line x1="870.80" y1="188.00" x2="870.80" y2="245.50" stroke="#777" stroke-width="0.8" stroke-dasharray="4 1.5 1.2 1.5" stroke-dashoffset="0"/>
<line x1="802.00" y1="178.80" x2="802.00" y2="207.10" stroke-dasharray="2 1.5" stroke-width="1.3"/>
<path d="M802,186 H846 V200.4 H802 M817.2,186 V200.4 M838.8,186 V200.4 M842,186 V200.4 M846,187.3 H851.5 Q860,193.2 851.5,199.1 H846" stroke-dasharray="2.6 1.5" stroke-width="1.2"/>
</g>
</svg>
</body></html>
